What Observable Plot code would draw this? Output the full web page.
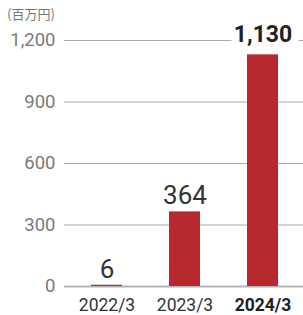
<!DOCTYPE html>
<html>
<head>
<meta charset="utf-8">
<script src="https://cdn.jsdelivr.net/npm/d3@7"></script>
<script src="https://cdn.jsdelivr.net/npm/@observablehq/plot@0.6"></script>
<style>
  html, body { margin: 0; padding: 0; background: #fff; }
  #wrap { position: relative; width: 303px; height: 315px; }
  #unit { position: absolute; left: 7px; top: 0; height: 24px; font: 13px "Noto Sans CJK JP", sans-serif; color: #777; line-height: 28px; z-index: 1; }
  svg { display: block; }
</style>
</head>
<body>
<div id="wrap"><div id="unit"></div><div id="chart"></div></div>
<script>
const years = ["2022/3", "2023/3", "2024/3"];
const values = [6, 364, 1130];
const labels = ["6", "364", "1,130"];
const yTicks = [0, 300, 600, 900, 1200];
const yTickLabels = ["0", "300", "600", "900", "1,200"];
const unitLabel = "(百万円)";

const data = years.map((y, i) => ({year: y, value: values[i], label: labels[i]}));
const latest = years[years.length - 1];
const font = 'Roboto, "Liberation Sans", sans-serif';
const others = data.filter(d => d.year !== latest);
const last = data.filter(d => d.year === latest);

const chart = Plot.plot({
  width: 303,
  height: 315,
  marginLeft: 64,
  marginRight: 0,
  marginTop: 40,
  marginBottom: 29,
  style: {fontFamily: font, background: "transparent"},
  x: {domain: years, range: [67.5, 301.5], paddingInner: 0.6, paddingOuter: 0.3, label: null},
  y: {domain: [0, 1200], label: null},
  marks: [
    Plot.gridY(yTicks.slice(1), {stroke: "#aaa", strokeOpacity: 1, strokeWidth: 1}),
    Plot.ruleY([0], {stroke: "#b4b4b4", strokeWidth: 2}),
    // white halo behind the latest label, drawn under the bars so it only masks the gridline
    Plot.text(last, {x: "year", y: "value", text: "label", dy: -20, fontSize: 23, fontWeight: "bold", fill: "white", stroke: "white", strokeWidth: 16}),
    Plot.barY(data, {x: "year", y: "value", fill: "#b8282f"}),
    Plot.axisY(yTicks, {tickSize: 0, tickPadding: 9, fontSize: 18.5, fill: "#7a7a7a", label: null,
      tickFormat: (d) => yTickLabels[yTicks.indexOf(d)]}),
    Plot.axisX(years.filter(y => y !== latest), {tickSize: 0, tickPadding: 12, fontSize: 17.5, fill: "#333", label: null}),
    Plot.axisX([latest], {tickSize: 0, tickPadding: 12, fontSize: 17.5, fill: "#222", fontWeight: "bold", label: null}),
    Plot.text(others, {x: "year", y: "value", text: "label", dy: -16, fontSize: 26, fill: "#333"}),
    Plot.text(last, {x: "year", y: "value", text: "label", dy: -20, fontSize: 23, fontWeight: "bold", fill: "#222"})
  ]
});
document.getElementById("chart").append(chart);
document.getElementById("unit").textContent = unitLabel;
</script>
</body>
</html>
